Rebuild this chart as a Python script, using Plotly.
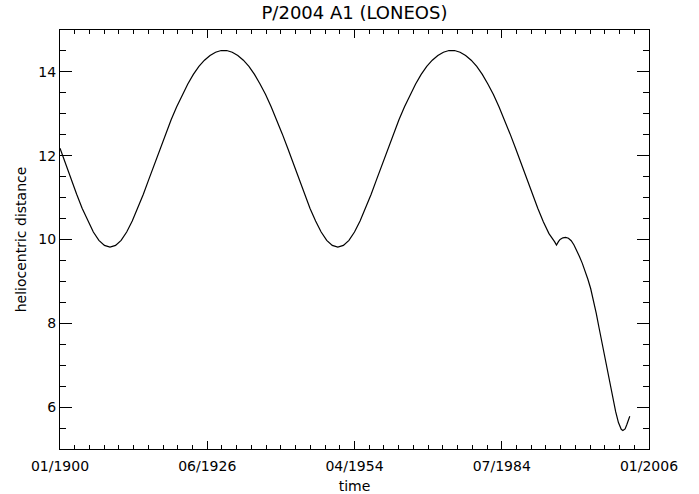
import plotly.graph_objects as go

# time in decimal years
years = [
    1900, 1901, 1902, 1903, 1904, 1905, 1906, 1907, 1908, 1909,
    1910, 1911, 1912, 1913, 1914, 1915, 1916, 1917, 1918, 1919,
    1920, 1921, 1922, 1923, 1924, 1925, 1926, 1927, 1928, 1929,
    1930, 1931, 1932, 1933, 1934, 1935, 1936, 1937, 1938, 1939,
    1940, 1941, 1942, 1943, 1944, 1945, 1946, 1947, 1948, 1949,
    1950, 1951, 1952, 1953, 1954, 1955, 1956, 1957, 1958, 1959,
    1960, 1961, 1962, 1963, 1964, 1965, 1966, 1967, 1968, 1969,
    1970, 1971, 1972, 1973, 1974, 1975, 1976, 1977, 1978, 1979,
    1980, 1981, 1982, 1983, 1984, 1985, 1986, 1987, 1988, 1989,
    1989.35, 1989.7, 1990.0, 1990.5, 1991.0, 1991.5, 1992.0, 1992.5,
    1993.0, 1993.5, 1994.0, 1994.5, 1995.0, 1995.5, 1996.0, 1996.5,
    1997.0, 1997.5, 1998.0, 1998.5, 1999.0, 1999.5, 2000.0, 2000.5,
    2001.0, 2001.3, 2001.7, 2002.0, 2002.54,
]

# heliocentric distance (AU)
distance = [
    12.18, 11.80, 11.44, 11.08, 10.74, 10.44, 10.18, 9.98, 9.86, 9.82,
    9.86, 9.98, 10.18, 10.44, 10.74, 11.08, 11.44, 11.80, 12.17, 12.52,
    12.86, 13.17, 13.46, 13.71, 13.94, 14.13, 14.28, 14.39, 14.47, 14.51,
    14.51, 14.47, 14.39, 14.28, 14.13, 13.94, 13.71, 13.46, 13.17, 12.86,
    12.52, 12.17, 11.80, 11.44, 11.08, 10.74, 10.44, 10.18, 9.98, 9.86,
    9.82, 9.86, 9.98, 10.18, 10.44, 10.74, 11.08, 11.44, 11.80, 12.17,
    12.52, 12.86, 13.17, 13.46, 13.71, 13.94, 14.13, 14.28, 14.39, 14.47,
    14.51, 14.51, 14.47, 14.39, 14.28, 14.13, 13.94, 13.71, 13.46, 13.17,
    12.86, 12.52, 12.17, 11.80, 11.44, 11.08, 10.74, 10.42, 10.14, 9.95,
    9.87, 9.95, 10.00, 10.04, 10.05, 10.03, 9.97, 9.87,
    9.74, 9.59, 9.43, 9.25, 9.05, 8.83, 8.56, 8.24,
    7.90, 7.55, 7.20, 6.85, 6.51, 6.19, 5.89, 5.63,
    5.47, 5.44, 5.48, 5.58, 5.78,
]

x_tick_vals = [1900, 1926.5, 1953, 1979.5, 2006]
x_tick_text = ["01/1900", "06/1926", "04/1954", "07/1984", "01/2006"]
y_tick_vals = [6, 8, 10, 12, 14]

x_minor = [1900 + i * 2.65 for i in range(41)]
y_minor = [5 + i * 0.5 for i in range(21)]

fig = go.Figure()
fig.add_trace(go.Scatter(
    x=years, y=distance, mode="lines",
    line=dict(color="black", width=1.2),
    hoverinfo="skip", showlegend=False,
))

axis_font = dict(family="DejaVu Sans", size=14, color="black")

fig.update_layout(
    width=699, height=494,
    margin=dict(l=60, r=50, t=30, b=45),
    paper_bgcolor="white", plot_bgcolor="white",
    title=dict(text="P/2004 A1 (LONEOS)", x=0.5, xref="paper", xanchor="center",
               y=1 - 13 / 494, yanchor="middle",
               font=dict(family="DejaVu Sans", size=18, color="black")),
    xaxis=dict(
        range=[1900, 2006], showgrid=False, zeroline=False, automargin=False,
        showline=True, linecolor="black", linewidth=1, mirror="allticks",
        ticks="inside", ticklen=8, tickwidth=1, tickcolor="black",
        tickmode="array", tickvals=x_tick_vals, ticktext=x_tick_text,
        tickfont=axis_font, ticklabelstandoff=4,
        minor=dict(tickmode="array", tickvals=x_minor, ticks="inside",
                   ticklen=4, tickwidth=1, tickcolor="black", showgrid=False),
        title=dict(text="time", font=axis_font, standoff=8),
    ),
    yaxis=dict(
        range=[5, 15], showgrid=False, zeroline=False, automargin=False,
        showline=True, linecolor="black", linewidth=1, mirror="allticks",
        ticks="inside", ticklen=12, tickwidth=1, tickcolor="black",
        tickmode="array", tickvals=y_tick_vals,
        tickfont=axis_font,
        minor=dict(tickmode="array", tickvals=y_minor, ticks="inside",
                   ticklen=6, tickwidth=1, tickcolor="black", showgrid=False),
        title=dict(text="heliocentric distance", font=axis_font, standoff=8),
    ),
)

fig.write_html("out.html")
